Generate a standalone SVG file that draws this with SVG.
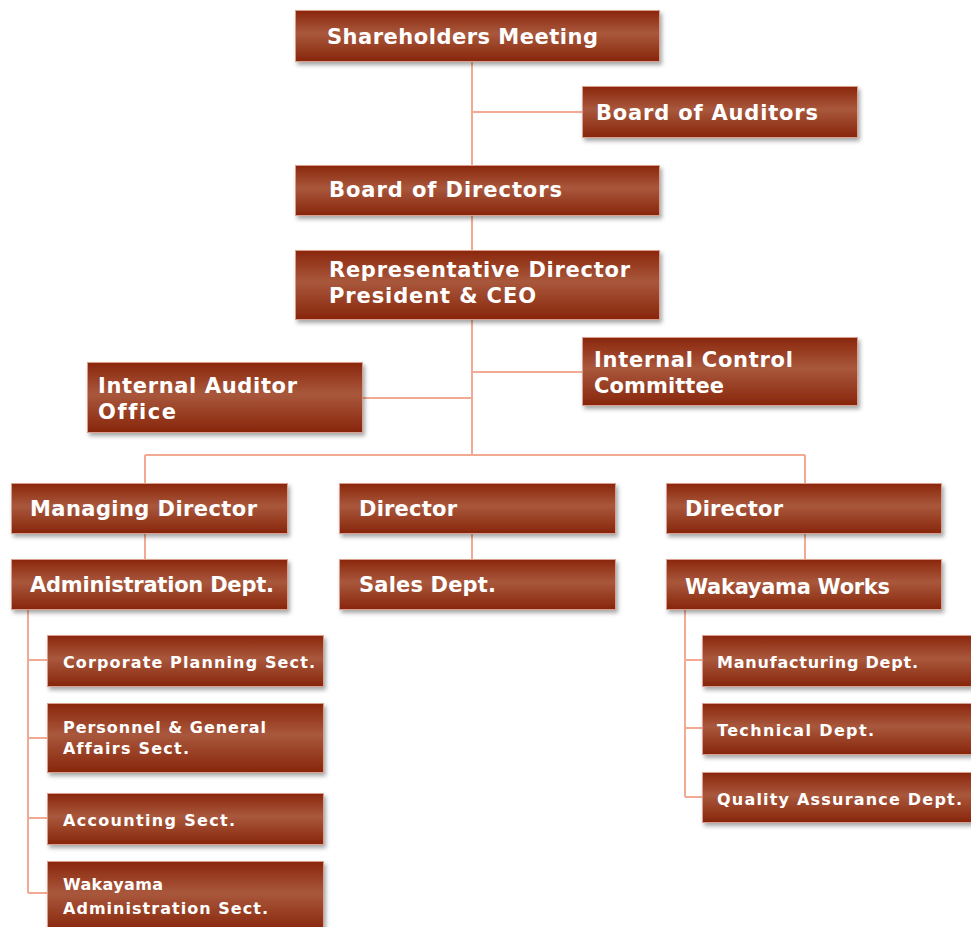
<svg xmlns="http://www.w3.org/2000/svg" width="971" height="927" viewBox="0 0 971 927">
<defs>
<linearGradient id="g" x1="0" y1="0" x2="0" y2="1">
<stop offset="0" stop-color="#8a260c"/>
<stop offset="0.45" stop-color="#a9583c"/>
<stop offset="1" stop-color="#87250b"/>
</linearGradient>
<filter id="sh" x="-5%" y="-10%" width="115%" height="140%">
<feDropShadow dx="2" dy="3" stdDeviation="2" flood-color="#000" flood-opacity="0.35"/>
</filter>
</defs>
<style>
.b{fill:url(#g);stroke:#d9a090;stroke-width:1;filter:url(#sh)}
.t{fill:#fff;font-family:"DejaVu Sans","Liberation Sans",sans-serif;font-weight:bold;font-size:21px;font-variant-ligatures:none}
.s{fill:#fff;font-family:"DejaVu Sans","Liberation Sans",sans-serif;font-weight:bold;font-size:16px;font-variant-ligatures:none}
.c{stroke:#f2ab92;stroke-width:2;fill:none}
</style>
<rect width="971" height="927" fill="#fff"/>
<g id="connectors">
<path class="c" d="M472 61V455M472 112H582M472 372H582M362 398H472M145 455H805M145 455V483M805 455V483M145 533V559M472 533V559M805 533V559"/>
<path class="c" d="M28 609V893M28 660H47M28 738H47M28 818H47M28 893H47"/>
<path class="c" d="M685 609V797M685 660H702M685 728H702M685 797H702"/>
</g>
<g id="shareholders"><rect class="b" x="295.5" y="10.5" width="364" height="51"/><text class="t" x="327" y="44" textLength="271" lengthAdjust="spacing">Shareholders Meeting</text></g>
<g id="auditors"><rect class="b" x="582.5" y="86.5" width="275" height="51"/><text class="t" x="596" y="120" textLength="222" lengthAdjust="spacing">Board of Auditors</text></g>
<g id="directors"><rect class="b" x="295.5" y="165.5" width="364" height="50"/><text class="t" x="329" y="197" textLength="233" lengthAdjust="spacing">Board of Directors</text></g>
<g id="ceo"><rect class="b" x="295.5" y="250.5" width="364" height="69"/><text class="t" x="329" y="277" textLength="301" lengthAdjust="spacing">Representative Director</text><text class="t" x="329" y="303" textLength="207" lengthAdjust="spacing">President &amp; CEO</text></g>
<g id="auditor-office"><rect class="b" x="87.5" y="362.5" width="275" height="70"/><text class="t" x="98" y="393" textLength="199" lengthAdjust="spacing">Internal Auditor</text><text class="t" x="98" y="419" textLength="78" lengthAdjust="spacing">Office</text></g>
<g id="control-committee"><rect class="b" x="582.5" y="337.5" width="275" height="68"/><text class="t" x="594" y="367" textLength="199" lengthAdjust="spacing">Internal Control</text><text class="t" x="594" y="393" textLength="130" lengthAdjust="spacing">Committee</text></g>
<g id="managing-director"><rect class="b" x="11.5" y="483.5" width="276" height="50"/><text class="t" x="30" y="516" textLength="227" lengthAdjust="spacing">Managing Director</text></g>
<g id="director-mid"><rect class="b" x="339.5" y="483.5" width="276" height="50"/><text class="t" x="359" y="516" textLength="98" lengthAdjust="spacing">Director</text></g>
<g id="director-right"><rect class="b" x="666.5" y="483.5" width="275" height="50"/><text class="t" x="685" y="516" textLength="98" lengthAdjust="spacing">Director</text></g>
<g id="admin"><rect class="b" x="11.5" y="559.5" width="276" height="50"/><text class="t" x="30" y="592" textLength="244" lengthAdjust="spacing">Administration Dept.</text></g>
<g id="sales"><rect class="b" x="339.5" y="559.5" width="276" height="50"/><text class="t" x="359" y="592" textLength="137" lengthAdjust="spacing">Sales Dept.</text></g>
<g id="wakayama-works"><rect class="b" x="666.5" y="559.5" width="275" height="50"/><text class="t" x="685" y="594" textLength="205" lengthAdjust="spacing">Wakayama Works</text></g>
<g id="corp-planning"><rect class="b" x="47.5" y="635.5" width="276" height="51"/><text class="s" x="63" y="668" textLength="252" lengthAdjust="spacing">Corporate Planning Sect.</text></g>
<g id="personnel"><rect class="b" x="47.5" y="703.5" width="276" height="69"/><text class="s" x="63" y="733" textLength="203" lengthAdjust="spacing">Personnel &amp; General</text><text class="s" x="63" y="754" textLength="126" lengthAdjust="spacing">Affairs Sect.</text></g>
<g id="accounting"><rect class="b" x="47.5" y="793.5" width="276" height="51"/><text class="s" x="63" y="826" textLength="172" lengthAdjust="spacing">Accounting Sect.</text></g>
<g id="wakayama-admin"><rect class="b" x="47.5" y="861.5" width="276" height="70"/><text class="s" x="63" y="890" textLength="100" lengthAdjust="spacing">Wakayama</text><text class="s" x="63" y="914" textLength="205" lengthAdjust="spacing">Administration Sect.</text></g>
<g id="manufacturing"><rect class="b" x="702.5" y="635.5" width="275" height="51"/><text class="s" x="717" y="668" textLength="201" lengthAdjust="spacing">Manufacturing Dept.</text></g>
<g id="technical"><rect class="b" x="702.5" y="703.5" width="275" height="51"/><text class="s" x="717" y="736" textLength="157" lengthAdjust="spacing">Technical Dept.</text></g>
<g id="quality"><rect class="b" x="702.5" y="772.5" width="275" height="50"/><text class="s" x="717" y="805" textLength="245" lengthAdjust="spacing">Quality Assurance Dept.</text></g>
</svg>
